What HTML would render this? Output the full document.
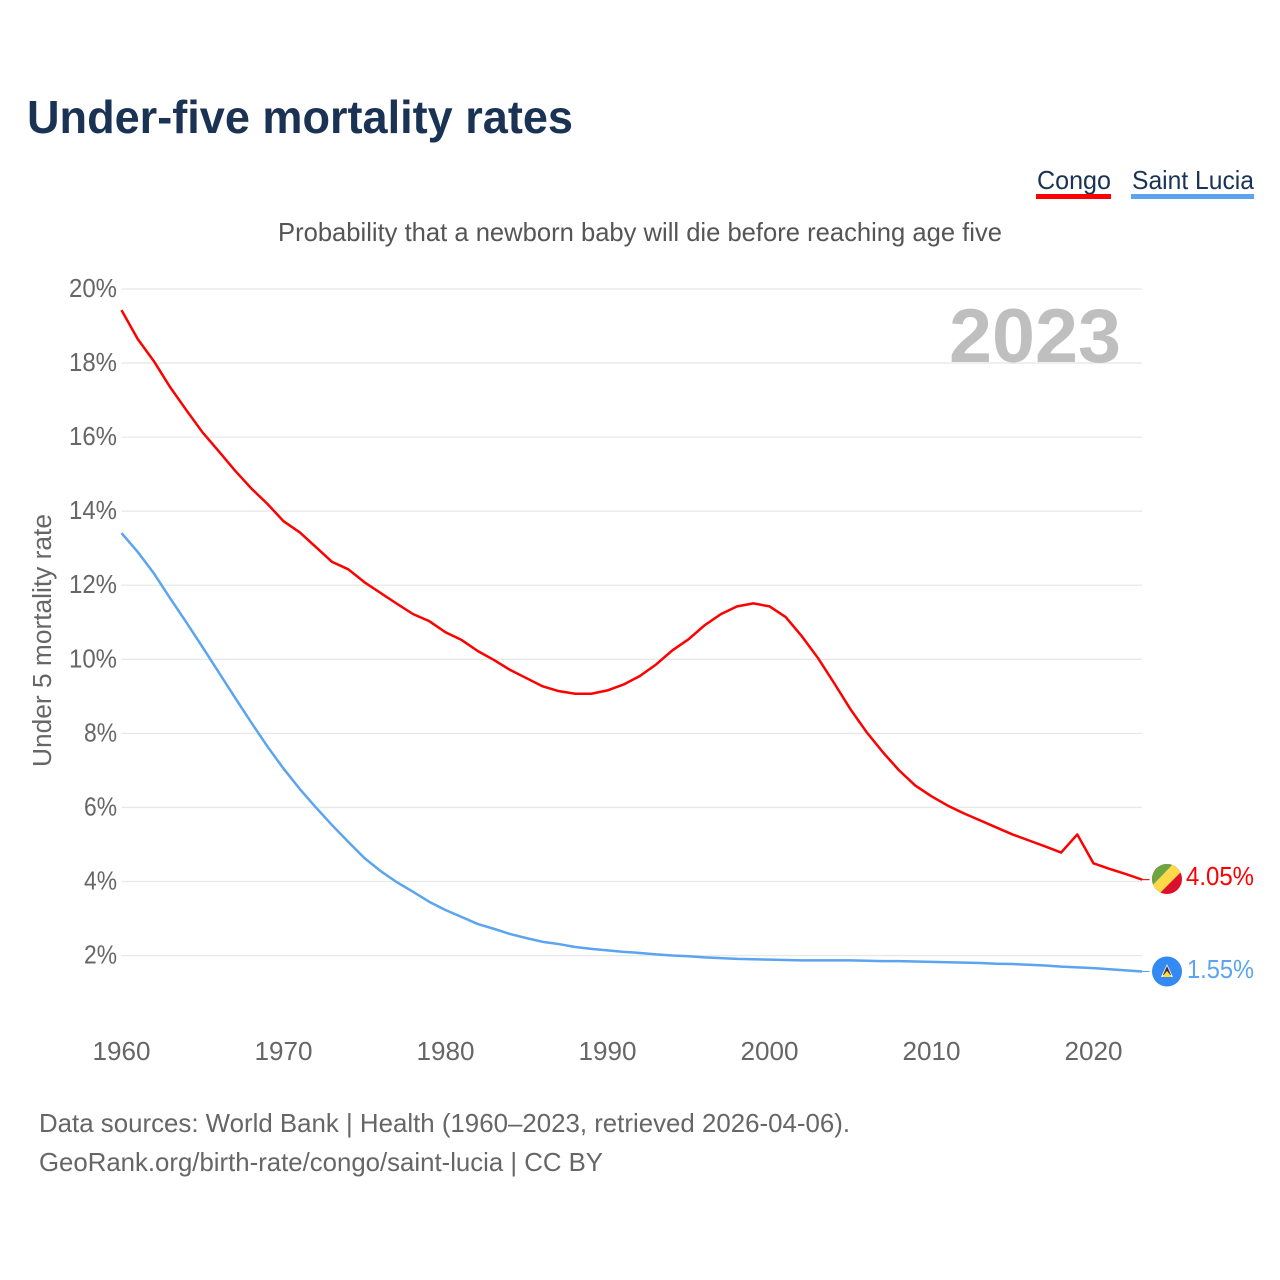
<!DOCTYPE html>
<html lang="en">
<head>
<meta charset="utf-8">
<title>Under-five mortality rates</title>
<style>
html,body{margin:0;padding:0;background:#fff;width:1280px;height:1280px;overflow:hidden}
svg{display:block}
text{font-family:"Liberation Sans",sans-serif}
</style>
</head>
<body>
<svg id="chart" xmlns="http://www.w3.org/2000/svg" width="1280" height="1280" viewBox="0 0 1280 1280">
  <defs>
    <clipPath id="flag-clip-a"><circle cx="1167" cy="879" r="15"/></clipPath>
    <clipPath id="flag-clip-b"><circle cx="1167" cy="971.5" r="15"/></clipPath>
  </defs>
  <text x="27" y="133" font-size="46" font-weight="700" fill="#1a3354" textLength="546" lengthAdjust="spacingAndGlyphs">Under-five mortality rates</text>

  <g>
    <text x="1037" y="189" font-size="26" fill="#1a3354" textLength="74" lengthAdjust="spacingAndGlyphs">Congo</text>
    <rect x="1036" y="194" width="75" height="5" fill="#ff0000"/>
  </g>
  <g>
    <text x="1132" y="189" font-size="26" fill="#1a3354" textLength="122" lengthAdjust="spacingAndGlyphs">Saint Lucia</text>
    <rect x="1131" y="194" width="123" height="5" fill="#5ba4f0"/>
  </g>

  <text x="278" y="241" font-size="26" fill="#555" textLength="724" lengthAdjust="spacingAndGlyphs">Probability that a newborn baby will die before reaching age five</text>

  <g id="grid"></g>
  <g id="yticks"></g>
  <g id="xticks"></g>

  <text x="949" y="362" font-size="76" font-weight="700" fill="#bfbfbf" textLength="172" lengthAdjust="spacingAndGlyphs">2023</text>

  <text transform="translate(51 767) rotate(-90)" font-size="25.5" fill="#666" textLength="253" lengthAdjust="spacingAndGlyphs">Under 5 mortality rate</text>

  <g id="series"></g>

  <g clip-path="url(#flag-clip-a)">
    <rect x="1150" y="862" width="34" height="34" fill="#dc0f2c"/>
    <polygon points="1150,896 1150,885 1173,862 1184,862 1184,869 1157,896" fill="#ffd94a"/>
    <polygon points="1150,862 1175,862 1150,888" fill="#6da544"/>
  </g>
  <g>
    <circle cx="1167" cy="971.5" r="15" fill="#338af3"/>
    <polygon points="1167,964 1173,977 1161,977" fill="#f0f0f0"/>
    <polygon points="1167,966 1171,975 1163,975" fill="#333"/>
    <polygon points="1167,971 1172,977 1162,977" fill="#ffda44"/>
  </g>

  <text x="1186" y="885" font-size="26" fill="#ff0000" textLength="68" lengthAdjust="spacingAndGlyphs">4.05%</text>
  <text x="1187" y="978" font-size="26" fill="#5ba4f0" textLength="67" lengthAdjust="spacingAndGlyphs">1.55%</text>

  <text x="39" y="1132" font-size="26" fill="#666" textLength="811" lengthAdjust="spacingAndGlyphs">Data sources: World Bank | Health (1960–2023, retrieved 2026-04-06).</text>
  <text x="39" y="1171" font-size="26" fill="#666" textLength="564" lengthAdjust="spacingAndGlyphs">GeoRank.org/birth-rate/congo/saint-lucia | CC BY</text>
</svg>
<script>
const startYear = 1960;
const yTickValues = [2, 4, 6, 8, 10, 12, 14, 16, 18, 20];
const yTickLabels = ["2%", "4%", "6%", "8%", "10%", "12%", "14%", "16%", "18%", "20%"];
const xTickYears = [1960, 1970, 1980, 1990, 2000, 2010, 2020];
const xTickLabels = ["1960", "1970", "1980", "1990", "2000", "2010", "2020"];
const congo = [19.43, 18.65, 18.05, 17.35, 16.73, 16.13, 15.62, 15.1, 14.62, 14.2,
  13.73, 13.43, 13.03, 12.63, 12.43, 12.08, 11.79, 11.5, 11.22, 11.03,
  10.73, 10.52, 10.22, 9.98, 9.71, 9.49, 9.27, 9.14, 9.07, 9.07,
  9.16, 9.32, 9.55, 9.86, 10.24, 10.54, 10.92, 11.22, 11.43, 11.51,
  11.43, 11.14, 10.62, 10.03, 9.35, 8.65, 8.03, 7.49, 7.0, 6.59,
  6.3, 6.05, 5.84, 5.65, 5.46, 5.27, 5.11, 4.95, 4.78, 5.27,
  4.49, 4.34, 4.2, 4.05];
const saintLucia = [13.41, 12.9, 12.32, 11.65, 11.0, 10.33, 9.65, 8.97, 8.3, 7.65,
  7.05, 6.5, 6.0, 5.52, 5.07, 4.63, 4.28, 3.98, 3.72, 3.45,
  3.23, 3.04, 2.85, 2.72, 2.58, 2.47, 2.37, 2.31, 2.23, 2.18,
  2.14, 2.1, 2.07, 2.03, 2.0, 1.98, 1.95, 1.93, 1.91, 1.9,
  1.89, 1.88, 1.87, 1.87, 1.87, 1.87, 1.86, 1.85, 1.85, 1.84,
  1.83, 1.82, 1.81, 1.8, 1.78, 1.77, 1.75, 1.73, 1.7, 1.68,
  1.66, 1.63, 1.6, 1.57];

const NS = "http://www.w3.org/2000/svg";
const xScale = function (year) { return 121.5 + (year - 1960) * 16.2; };
const yScale = function (value) { return 289 + (20 - value) * 37.03; };

function svgEl(tag, attrs, parent) {
  const el = document.createElementNS(NS, tag);
  Object.keys(attrs).forEach(function (k) { el.setAttribute(k, attrs[k]); });
  parent.appendChild(el);
  return el;
}

const gridGroup = document.getElementById("grid");
const yGroup = document.getElementById("yticks");
const xGroup = document.getElementById("xticks");
const seriesGroup = document.getElementById("series");

yTickValues.forEach(function (v, i) {
  const line = svgEl("line", { x1: 121.5, x2: xScale(2023), y1: yScale(v), y2: yScale(v), stroke: "#e8e8e8", "stroke-width": 1.3 }, gridGroup);
  
  
  const label = yTickLabels[i];
  const t = svgEl("text", { x: 117, y: yScale(v) + 8, "text-anchor": "end", "font-size": 26, fill: "#666", textLength: label.length === 3 ? 48 : 33, lengthAdjust: "spacingAndGlyphs" }, yGroup);
  
  
  t.textContent = label;
});

xTickYears.forEach(function (year, i) {
  const t = svgEl("text", { x: xScale(year), y: 1060, "text-anchor": "middle", "font-size": 26, fill: "#666", textLength: 58, lengthAdjust: "spacingAndGlyphs" }, xGroup);
  
  
  t.textContent = xTickLabels[i];
});

function drawSeries(values, color, name) {
  const pts = values.map(function (v, i) { return xScale(startYear + i).toFixed(2) + "," + yScale(v).toFixed(2); });
  const path = svgEl("polyline", { points: pts.join(" "), fill: "none", stroke: color, "stroke-width": 2.5, "stroke-linejoin": "round" }, seriesGroup);
  
  
  const lastY = yScale(values[values.length - 1]);
  const lastX = xScale(startYear + values.length - 1);
  const tail = svgEl("line", { x1: lastX, x2: lastX + 7.5, y1: lastY, y2: lastY, stroke: color, "stroke-width": 1.1 }, seriesGroup);
  
  
}
drawSeries(congo, "#ff0000", "line-congo");
drawSeries(saintLucia, "#5ba4f0", "line-saint-lucia");
</script>
</body>
</html>
